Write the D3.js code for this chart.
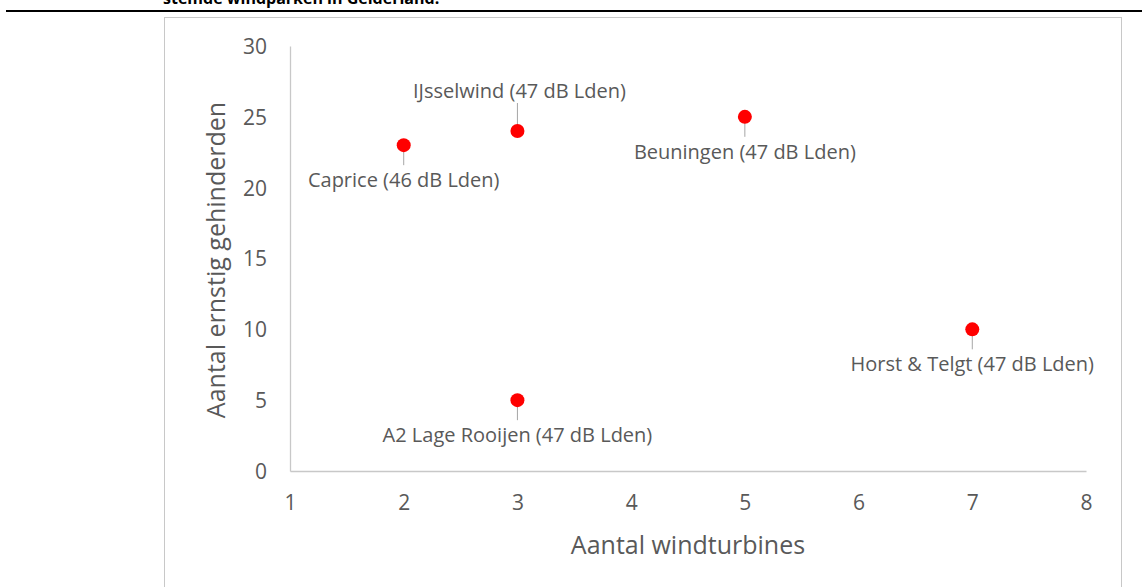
<!DOCTYPE html>
<html><head><meta charset="utf-8">
<script src="https://cdn.jsdelivr.net/npm/d3@7"></script>
<style>body{margin:0;background:#fff}svg{display:block}text{font-family:"Open Sans",sans-serif}</style>
</head><body>
<svg id="c" width="1142" height="587"></svg>
<script>
const names = ["Caprice (46 dB Lden)","IJsselwind (47 dB Lden)","Beuningen (47 dB Lden)","Horst & Telgt (47 dB Lden)","A2 Lage Rooijen (47 dB Lden)"];
const turbines = [2,3,5,7,3];
const gehinderden = [23,24,25,10,5];
const labelPos = ["below","above","below","below","below"];
const xTicks = [1,2,3,4,5,6,7,8];
const yTicks = [0,5,10,15,20,25,30];

const svg = d3.select("#c");
// cropped caption line
svg.append("text").attr("x",163).attr("y",4).attr("font-weight","bold").attr("font-size",16).attr("fill","#000").text("stemde windparken in Gelderland.");
svg.append("line").attr("x1",6).attr("x2",1142).attr("y1",11).attr("y2",11).attr("stroke","#000").attr("stroke-width",2);
// frame
svg.append("rect").attr("x",164.5).attr("y",17.5).attr("width",957).attr("height",600).attr("fill","none").attr("stroke","#c8c8c8");

const x = d3.scaleLinear().domain([1,8]).range([290,1086]);
const y = d3.scaleLinear().domain([0,30]).range([471,46]);
const grey = "#595959";

const xa = svg.append("g").attr("transform","translate(0,471)").call(d3.axisBottom(x).tickValues(xTicks).tickSize(0).tickPadding(24).tickFormat(d3.format("d")));
const ya = svg.append("g").attr("transform","translate(290,0)").call(d3.axisLeft(y).tickValues(yTicks).tickSize(0).tickPadding(23).tickFormat(d3.format("d")));
[xa,ya].forEach(a=>{a.select(".domain").attr("stroke","#c8c8c8").attr("stroke-width",1.3);a.selectAll("text").attr("font-size",21).attr("fill",grey).attr("font-family","Open Sans");});
ya.selectAll("text").attr("dy","0.35em");

svg.append("text").attr("x",688).attr("y",554).attr("text-anchor","middle").attr("font-size",25).attr("fill",grey).text("Aantal windturbines");
svg.append("text").attr("transform","translate(225,260) rotate(-90)").attr("text-anchor","middle").attr("font-size",25).attr("fill",grey).text("Aantal ernstig gehinderden");

const data = names.map((n,i)=>({n,x:turbines[i],y:gehinderden[i],p:labelPos[i]}));
const g = svg.append("g");
data.forEach(d=>{
  const px=x(d.x), py=y(d.y);
  if(d.p==="below"){
    g.append("line").attr("x1",px).attr("x2",px).attr("y1",py).attr("y2",py+20).attr("stroke","#a6a6a6");
    g.append("text").attr("x",px).attr("y",py+42).attr("text-anchor","middle").attr("font-size",20).attr("fill",grey).text(d.n);
  } else {
    g.append("line").attr("x1",px).attr("x2",px).attr("y1",py).attr("y2",py-28).attr("stroke","#a6a6a6");
    g.append("text").attr("x",px+2).attr("y",py-33).attr("text-anchor","middle").attr("font-size",20).attr("fill",grey).text(d.n);
  }
});
g.selectAll("circle").data(data).enter().append("circle").attr("cx",d=>x(d.x)).attr("cy",d=>y(d.y)).attr("r",7).attr("fill","#ff0000");
</script>
</body></html>
